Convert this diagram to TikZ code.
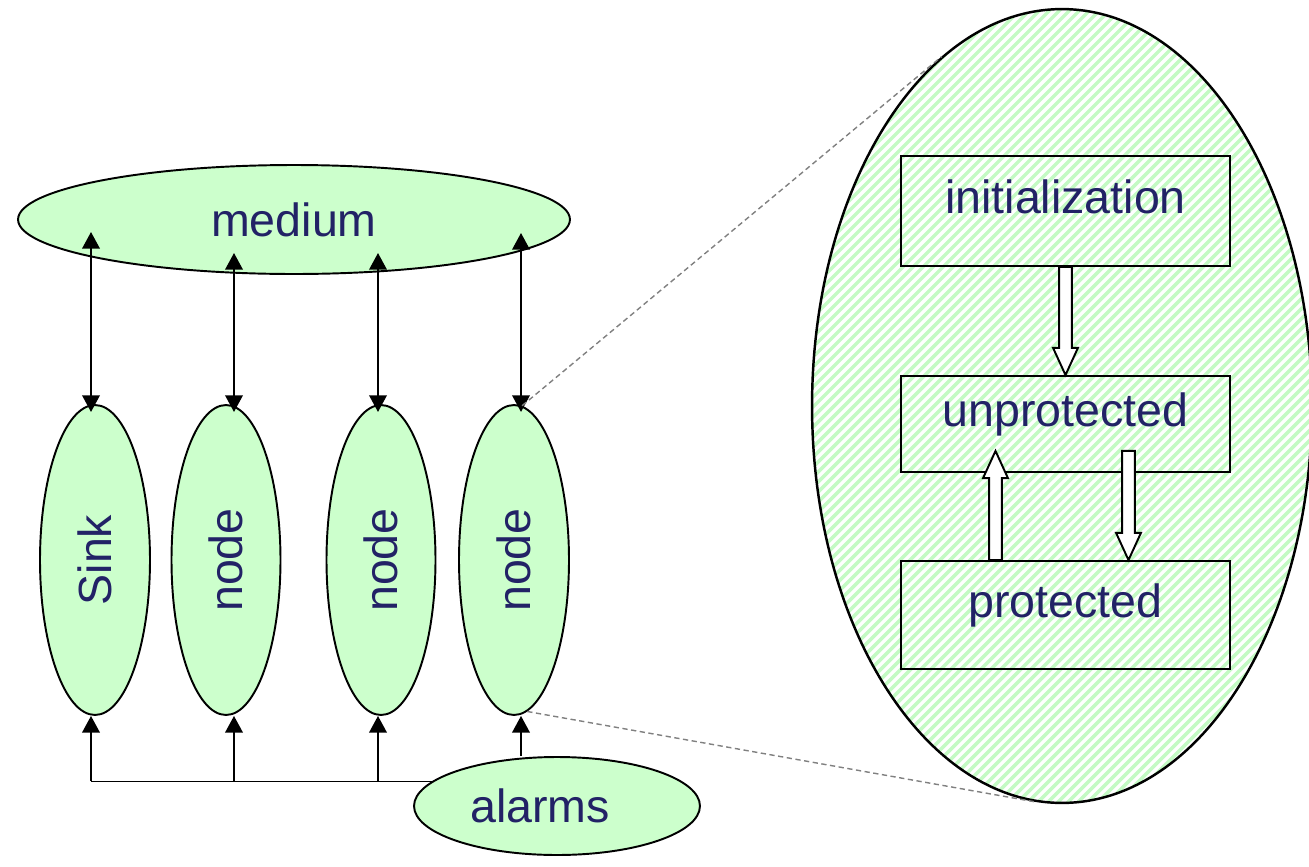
\documentclass[tikz,border=0pt]{standalone}
\usepackage{fontspec}
\setmainfont{Liberation Sans}
\usetikzlibrary{arrows.meta, calc, shapes.geometric, backgrounds}

\definecolor{lightgreen}{RGB}{204,255,204}
\definecolor{hatchgreen}{RGB}{196,250,196}
\definecolor{labelblue}{RGB}{34,34,102}

% hollow block arrow from #1 to the tip #2 (vertical only)
\newcommand{\hollowarrow}[2]{%
  \coordinate (hb) at ($(#2)!15.5pt!(#1)$);
  \draw[fill=white] ([xshift=-3.6pt]#1) -- ([xshift=-3.6pt]hb) -- ([xshift=-7.1pt]hb) -- (#2)
    -- ([xshift=7.1pt]hb) -- ([xshift=3.6pt]hb) -- ([xshift=3.6pt]#1) -- cycle;
}

\begin{document}
\begin{tikzpicture}[x=0.02cm, y=-0.02cm, line width=1.1pt,
    >={Triangle[width=10pt,length=9.5pt]},
    every node/.style={font=\fontsize{26.5}{32}\selectfont, text=labelblue},
    blob/.style={ellipse, draw, fill=lightgreen, inner sep=0pt},
    state/.style={rectangle, draw, minimum width=6.58cm, inner sep=0pt, text height=0.72em, text depth=0.45em},
    zoomline/.style={gray, line width=0.8pt, dash pattern=on 3pt off 2pt}]

    \useasboundingbox (0,0) rectangle (1309,866);

    % network
    \node[blob, minimum width=11.04cm, minimum height=2.18cm] (medium) at (294,219.5) {medium};
    \node[blob, minimum width=2.2cm, minimum height=6.2cm] (sink) at (95,560) {\rotatebox{90}{Sink}};
    \node[blob, minimum width=2.18cm, minimum height=6.2cm] (n1) at (226,560) {\rotatebox{90}{node}};
    \node[blob, minimum width=2.18cm, minimum height=6.2cm] (n2) at (381,560) {\rotatebox{90}{node}};
    \node[blob, minimum width=2.2cm, minimum height=6.2cm] (n3) at (514,560) {\rotatebox{90}{node}};
    \node[blob, minimum width=5.72cm, minimum height=1.96cm, text depth=0.1em] (alarms) at (557,806) {alarms\hspace{0.68cm}\mbox{}};

    \coordinate (m1) at (91,232);
    \coordinate (m2) at (234,253);
    \coordinate (m3) at (378,253);
    \coordinate (m4) at (521,233);
    \coordinate (bus) at (0,781);

    \foreach \m/\n in {m1/sink, m2/n1, m3/n2, m4/n3}
        \draw[<->, shorten >=-4.5pt] (\m) -- (\m |- \n.north);
    \foreach \m/\n in {m1/sink, m2/n1, m3/n2}
        \draw[->] (\m |- bus) -- (\m |- \n.south);
    \draw[->] (m4 |- alarms.north) -- (m4 |- n3.south);
    \begin{scope}[on background layer]
        \draw (m1 |- bus) -- (alarms.center |- bus);
    \end{scope}

    % node state machine
    \begin{scope}
        \clip (1062,406) ellipse [x radius=250, y radius=397];
        \foreach \k in {-100,-90,...,1220}
            \draw[hatchgreen, line width=2pt] (\k,900) -- ++(1000,-1000);
    \end{scope}
    \node[ellipse, draw, line width=1.4pt, minimum width=10cm, minimum height=15.88cm, inner sep=0pt] (detail) at (1062,406) {};

    \node[state, minimum height=2.2cm] (init) at (1065.5,211) {initialization};
    \node[state, minimum height=1.92cm] (unprot) at (1065.5,424) {unprotected};
    \node[state, minimum height=2.16cm] (prot) at (1065.5,615) {protected};

    \coordinate (upa) at ($(prot.north)+(-70,0)$);
    \coordinate (upb) at ($(unprot.south)+(-70,-22)$);
    \coordinate (dna) at ($(unprot.south)+(63,-22)$);
    \coordinate (dnb) at ($(prot.north)+(63,0)$);
    \hollowarrow{init.south}{unprot.north}
    \hollowarrow{upa}{upb}
    \hollowarrow{dna}{dnb}

    \draw[zoomline] (n3.87) -- (detail.109);
    \draw[zoomline] (n3.275) -- (detail.266);
\end{tikzpicture}
\end{document}
